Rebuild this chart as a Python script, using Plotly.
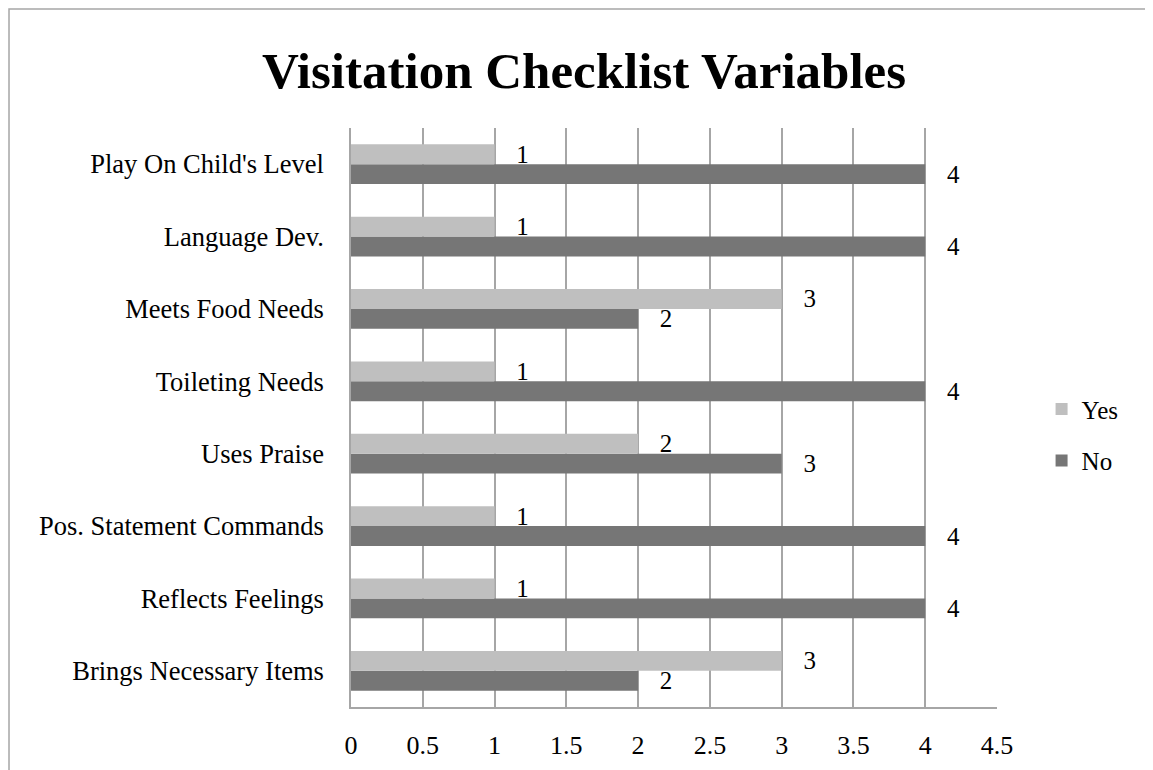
import plotly.graph_objects as go

categorias = ["Brings Necessary Items", "Reflects Feelings", "Pos. Statement Commands",
              "Uses Praise", "Toileting Needs", "Meets Food Needs", "Language Dev.",
              "Play On Child's Level"]
sim = [3, 1, 1, 2, 1, 3, 1, 1]
nao = [2, 4, 4, 3, 4, 2, 4, 4]
ticks_x = [0, 0.5, 1, 1.5, 2, 2.5, 3, 3.5, 4, 4.5]

fonte = "Liberation Serif"
pad = "\u00a0" * 3

# a página tem 8px de margem, então a figura fica 8px menor
W, H = 1145, 762

fig = go.Figure()
fig.add_trace(go.Bar(y=categorias, x=nao, name="No", orientation="h",
                     marker=dict(color="#767676", line=dict(width=0)),
                     text=[pad + str(v) for v in nao], textposition="outside",
                     textfont=dict(size=25), constraintext="none",
                     cliponaxis=False, legendgroup="no", legendrank=2))
fig.add_trace(go.Bar(y=categorias, x=sim, name="Yes", orientation="h",
                     marker=dict(color="#BFBFBF", line=dict(width=0)),
                     text=[pad + str(v) for v in sim], textposition="outside",
                     textfont=dict(size=25), constraintext="none",
                     cliponaxis=False, legendgroup="yes", legendrank=1))

fig.update_layout(
    width=W, height=H,
    barmode="group", bargap=0.45, bargroupgap=0,
    plot_bgcolor="white", paper_bgcolor="white",
    font=dict(family=fonte, size=26.5, color="black"),
    margin=dict(l=343, r=156, t=120, b=63),
    title=dict(text="<b>Visitation Checklist Variables</b>", font=dict(size=51, family=fonte),
               x=576 / W, xref="container", xanchor="center",
               y=1 - 62 / H, yref="container", yanchor="middle"),
    xaxis=dict(range=[0, 4.5], tickvals=ticks_x, ticktext=[str(t) for t in ticks_x],
               showgrid=True, gridcolor="#A6A6A6", gridwidth=1.5,
               showline=True, linecolor="#A6A6A6", linewidth=1.5,
               ticks="", ticklabelstandoff=14, zeroline=False, automargin=False,
               tickfont=dict(size=26)),
    yaxis=dict(showgrid=False, showline=True, linecolor="#A6A6A6", linewidth=1.5,
               ticks="", ticklabelstandoff=20, automargin=False),
    legend=dict(x=1.069, y=0.47, xanchor="left", yanchor="middle",
                traceorder="grouped", tracegroupgap=16,
                font=dict(size=25), itemwidth=30),
    showlegend=True,
)

# moldura do gráfico (só aparecem as bordas esquerda e superior)
fig.add_shape(type="rect", xref="paper", yref="paper",
              x0=-0.5294, x1=1.6, y0=-0.3, y1=1.2055,
              line=dict(color="#A6A6A6", width=1.5), layer="below")

fig.write_html("out.html")
